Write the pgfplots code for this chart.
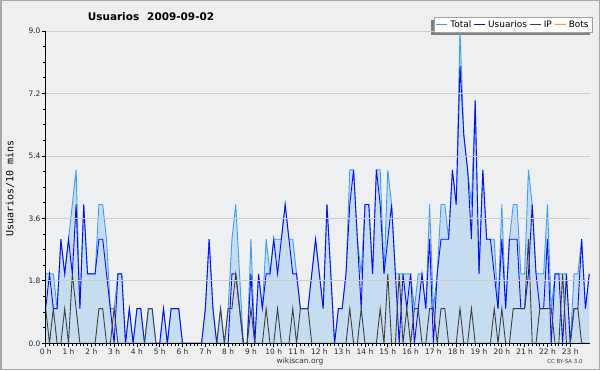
\documentclass[border=0pt]{standalone}
\usepackage{fontspec}
\setmainfont{DejaVu Sans}
\newfontfamily\monofont{DejaVu Sans Mono}
\usepackage{pgfplots}
\pgfplotsset{compat=1.18}
\usepackage{pgfplotstable}
\usetikzlibrary{backgrounds}

\definecolor{bg}{HTML}{EEEFF1}
\definecolor{framec}{HTML}{A8A8A8}
\definecolor{totline}{HTML}{3C9DF5}
\definecolor{totfill}{HTML}{C6DDF1}
\definecolor{usr}{HTML}{0A0AF5}
\definecolor{ipc}{HTML}{404040}
\definecolor{bots}{HTML}{FFA500}
\definecolor{gridc}{HTML}{CDCDCD}
\definecolor{legshadow}{HTML}{808080}
\definecolor{legborder}{HTML}{A0A0A0}

\pgfplotstableread{
i U P T
0 1 1 2
1 2 0 2
2 1 1 2
3 1 0 1
4 3 0 3
5 2 1 2
6 3 0 3
7 2 2 4
8 4 1 5
9 1 0 1
10 4 0 4
11 2 0 2
12 2 0 2
13 2 0 2
14 3 1 4
15 3 1 4
16 2 0 3
17 1 0 1
18 0 1 1
19 2 0 2
20 2 0 2
21 0 0 0
22 1 0 1
23 0 0 0
24 1 0 1
25 1 0 1
26 0 0 0
27 0 1 1
28 0 1 1
29 0 0 0
30 0 0 0
31 1 0 1
32 0 0 0
33 1 0 1
34 1 0 1
35 1 0 1
36 0 0 0
37 0 0 0
38 0 0 0
39 0 0 0
40 0 0 0
41 0 0 0
42 1 0 1
43 3 0 3
44 1 0 1
45 0 0 0
46 0 1 1
47 0 0 0
48 0 1 1
49 2 1 3
50 2 2 4
51 1 1 2
52 0 0 0
53 0 0 0
54 2 1 3
55 0 0 0
56 2 0 2
57 1 0 1
58 2 1 3
59 2 0 2
60 3 0 3
61 2 1 3
62 3 0 3
63 4 0 4
64 3 0 3
65 2 1 3
66 2 0 2
67 1 1 1
68 1 1 1
69 1 1 1
70 2 0 2
71 3 0 3
72 2 0 2
73 1 0 1
74 4 0 4
75 2 0 2
76 0 0 0
77 1 0 1
78 1 0 1
79 2 0 2
80 4 1 5
81 5 0 5
82 3 0 3
83 1 1 2
84 4 0 4
85 4 0 4
86 2 0 2
87 5 0 5
88 4 1 5
89 2 0 2
90 3 2 5
91 4 0 4
92 2 0 2
93 0 2 2
94 2 0 2
95 1 1 2
96 2 0 2
97 0 1 1
98 1 1 2
99 2 0 2
100 1 0 1
101 3 1 4
102 0 1 1
103 2 0 2
104 3 1 4
105 3 1 4
106 3 0 3
107 5 0 5
108 4 0 4
109 8 1 9
110 6 0 6
111 5 0 5
112 3 1 4
113 7 0 7
114 2 0 2
115 5 0 5
116 3 0 3
117 3 0 3
118 2 1 3
119 1 0 1
120 3 1 4
121 1 0 1
122 3 0 3
123 3 1 4
124 3 1 4
125 1 1 2
126 1 1 2
127 2 3 5
128 4 0 4
129 2 0 2
130 1 1 2
131 1 1 2
132 3 1 4
133 0 1 1
134 2 0 2
135 2 0 2
136 0 2 2
137 2 0 2
138 0 0 0
139 1 1 2
140 1 1 2
141 3 0 3
142 1 0 1
143 2 0 2
}\data

\begin{document}
\begin{tikzpicture}[x=1bp,y=1bp]
\useasboundingbox (0,0) rectangle (600,370);
\begin{scope}[on background layer]
\fill[bg] (0,0) rectangle (600,370);
\draw[framec, line width=1.5bp] (0.75,0.75) rectangle (599.25,369.25);
\end{scope}
\begin{axis}[
  at={(45.7bp,26.7bp)}, anchor=south west,
  scale only axis, width=544.3bp, height=312.3bp,
  xmin=0, xmax=143.2, ymin=0, ymax=9,
  axis x line*=bottom, axis y line*=left,
  axis line style={-, black, line width=0.9bp},
  axis on top,
  tick align=outside,
  major tick length=4bp, minor tick length=2.5bp,
  every tick/.style={black, line width=0.7bp},
  xtick={0,6,...,138},
  xticklabels={0 h,1 h,2 h,3 h,4 h,5 h,6 h,7 h,8 h,9 h,10 h,11 h,12 h,13 h,14 h,15 h,16 h,17 h,18 h,19 h,20 h,21 h,22 h,23 h},
  minor x tick num=5,
  ytick={0,1.8,3.6,5.4,7.2,9},
  yticklabels={0.0,1.8,3.6,5.4,7.2,9.0},
  minor y tick num=3,
  ymajorgrids, grid style={gridc, line width=0.8bp},
  /pgf/number format/assume math mode=true,
  ticklabel style={font=\fontsize{7.5}{8}\selectfont, text=black!85},
  xticklabel style={anchor=north, inner sep=0pt, yshift=-1bp},
  yticklabel style={anchor=east, inner sep=0pt, xshift=-1bp},
  legend columns=4,
  legend image code/.code={\draw[#1] (0bp,0bp) -- (11bp,0bp);},
  legend style={name=leg, at={(1.0055,1.044)}, anchor=north east,
    draw=legborder, fill=white, line width=0.8bp,
    font=\fontsize{9}{10}\selectfont,
    inner xsep=1.5bp, inner ysep=1.5bp,
    nodes={inner xsep=2.5bp, inner ysep=1.5bp},
    /tikz/every even column/.append style={column sep=0bp}},
]
\addplot[draw=none, fill=totfill, forget plot] table[x=i,y=T] {\data} \closedcycle;
\addplot[totline, line width=0.9bp] table[x=i,y=T] {\data};
\addlegendentry{Total}
\addplot[usr, line width=0.9bp] table[x=i,y=U] {\data};
\addlegendentry{Usuarios}
\addplot[ipc, line width=0.9bp] table[x=i,y=P] {\data};
\addlegendentry{IP}
\addlegendimage{bots, line width=0.9bp}
\addlegendentry{Bots}
\end{axis}
\begin{scope}[on background layer]
\fill[legshadow] ([xshift=-3bp,yshift=-2.5bp]leg.south west) rectangle ([xshift=-3bp,yshift=-2.5bp]leg.north east);
\end{scope}
\node[font=\bfseries\fontsize{10.5}{12}\selectfont] at (151,353.3) {Usuarios\hspace{8bp}2009-09-02};
\node[rotate=90, font=\monofont\fontsize{10}{11}\selectfont] at (10,181.5) {Usuarios/10 mins};
\node[font=\fontsize{7.5}{8}\selectfont, text=black!80] at (300,9) {wikiscan.org};
\node[font=\fontsize{5.5}{6}\selectfont, text=black!75] at (565,9) {CC BY-SA 3.0};
\end{tikzpicture}
\end{document}
